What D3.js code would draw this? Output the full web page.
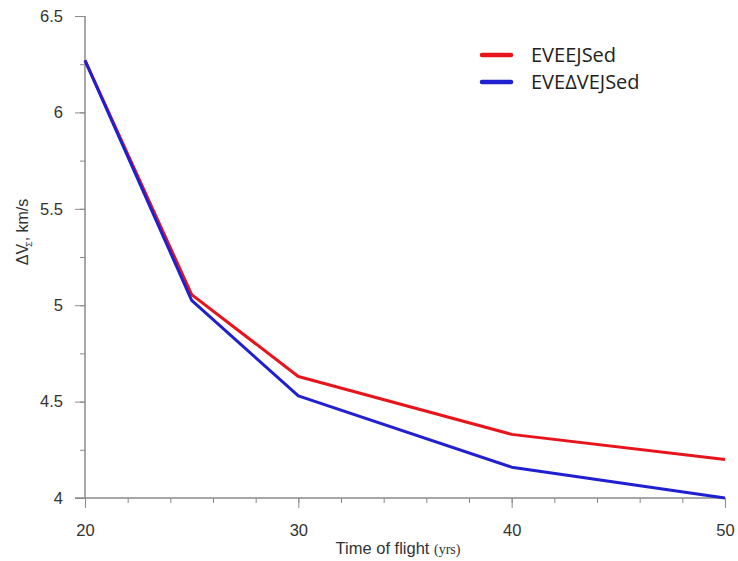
<!DOCTYPE html>
<html><head><meta charset="utf-8">
<script src="https://cdn.jsdelivr.net/npm/d3@7"></script>
<style>body{margin:0;background:#fff}svg{display:block}</style>
</head><body>
<svg id="c" width="738" height="561"></svg>
<script>
const years = [20, 25, 30, 40, 50];
const seriesNames = ["EVEEJSed", "EVE\u0394VEJSed"];
const seriesColors = ["#e8141c", "#2020d0"];
const redValues = [6.27, 5.055, 4.63, 4.33, 4.2];
const blueValues = [6.27, 5.025, 4.53, 4.16, 4.0];
const xMajorTicks = [20, 30, 40, 50];
const xMinorTicks = d3.range(20, 51, 2);
const yMajorTicks = [4, 4.5, 5, 5.5, 6, 6.5];
const yMinorTicks = d3.range(4, 6.51, 0.25);

const svg = d3.select("#c");
const x = d3.scaleLinear().domain([20, 50]).range([85, 725]);
const y = d3.scaleLinear().domain([4, 6.5]).range([498, 16]);
const axisColor = "#8a8a8a";
const tickFont = "Liberation Sans, Arial, sans-serif";

// x axis
const gx = svg.append("g").attr("transform", "translate(0,498)");
gx.call(d3.axisBottom(x).tickValues(xMinorTicks).tickSize(5).tickFormat("").tickSizeOuter(0));
gx.append("g").call(d3.axisBottom(x).tickValues(xMajorTicks).tickSize(10).tickPadding(16)
  .tickFormat(d3.format("d")).tickSizeOuter(0));
gx.selectAll("path.domain").attr("stroke", axisColor).attr("d", "M75,0H725");
gx.selectAll(".tick line").attr("stroke", axisColor);
gx.selectAll(".tick text").attr("fill", "#333").style("font-family", tickFont).style("font-size", "16.5px");

// y axis
const gy = svg.append("g").attr("transform", "translate(85,0)");
gy.call(d3.axisLeft(y).tickValues(yMinorTicks).tickSize(5).tickFormat("").tickSizeOuter(0));
gy.append("g").call(d3.axisLeft(y).tickValues(yMajorTicks).tickSize(10).tickPadding(12)
  .tickFormat(d => String(d)).tickSizeOuter(0));
gy.selectAll("path.domain").attr("stroke", axisColor).attr("d", "M0,16V498");
gy.selectAll(".tick line").attr("stroke", axisColor);
gy.selectAll(".tick text").attr("fill", "#333").style("font-family", tickFont).style("font-size", "16.5px");

// lines
const line = d3.line().x((d, i) => x(years[i])).y(d => y(d));
[redValues, blueValues].forEach((vals, k) => {
  svg.append("path").datum(vals).attr("d", line).attr("fill", "none")
    .attr("stroke", seriesColors[k]).attr("stroke-width", 3).attr("stroke-linejoin", "round");
});

// legend
seriesNames.forEach((n, k) => {
  const ly = 55 + k * 27;
  svg.append("line").attr("x1", 482).attr("x2", 511).attr("y1", ly).attr("y2", ly)
    .attr("stroke", seriesColors[k]).attr("stroke-width", 4.5).attr("stroke-linecap", "round");
  svg.append("text").attr("x", 531).attr("y", ly + 6.5).text(n)
    .attr("fill", "#222").style("font-family", "Open Sans, Lato, sans-serif").style("font-size", "20px");
});

// x label
const xl = svg.append("text").attr("x", 398).attr("y", 554).attr("text-anchor", "middle").attr("fill", "#333");
xl.append("tspan").text("Time of flight ").style("font-family", tickFont).style("font-size", "16.5px");
xl.append("tspan").text("(yrs)").style("font-family", "Liberation Serif, Times New Roman, serif").style("font-size", "14px");

// y label
const yl = svg.append("text").attr("transform", "translate(28,232) rotate(-90)").attr("text-anchor", "middle")
  .attr("fill", "#333").style("font-family", tickFont).style("font-size", "16px");
yl.append("tspan").text("\u0394V");
yl.append("tspan").text("\u03A3").attr("dy", 4).style("font-size", "9px").attr("dx", -3);
yl.append("tspan").text(", km/s").attr("dy", -4);
</script>
</body></html>
